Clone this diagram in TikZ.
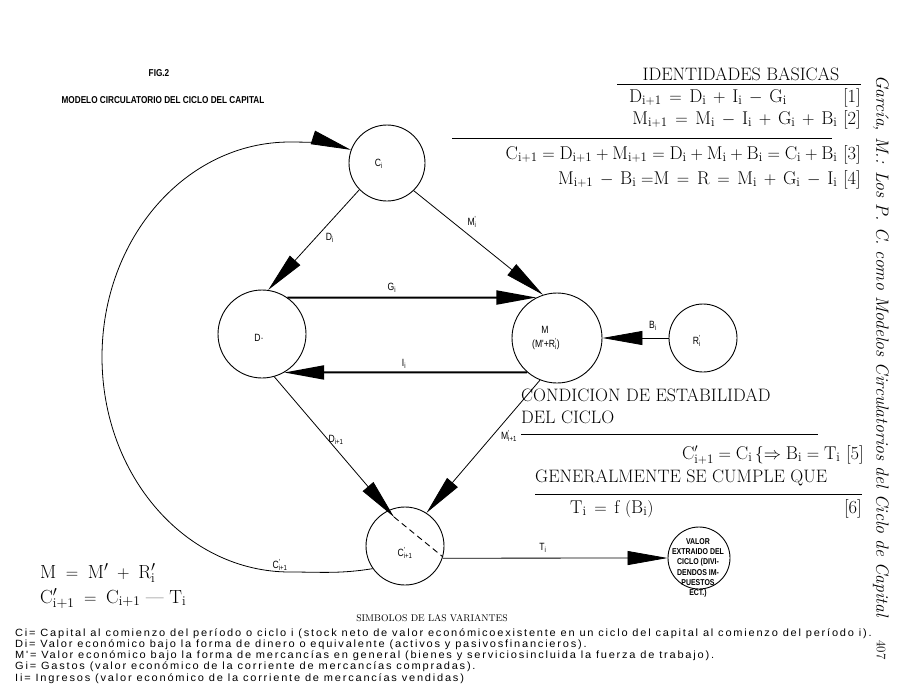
\documentclass[tikz,border=0pt]{standalone}
\usepackage{fontspec}
\usetikzlibrary{arrows.meta}
\newfontfamily\cond{Liberation Sans}[FakeStretch=0.82]
\newfontfamily\legf{Liberation Sans}[FakeStretch=1.05,LetterSpace=17]
\newcommand\lsub[2]{#1\textsubscript{#2}}
\newcommand\lps[2]{#1\rlap{\textsuperscript{'}}\textsubscript{#2}}
\newcommand\op[1]{\,#1\,}
\tikzset{
  nd/.style={circle,draw,line width=0.9pt,inner sep=0pt},
  arr/.style={-{Triangle[length=40pt,width=14pt]},line width=0.8pt},
  thk/.style={line width=2pt},
  lbl/.style={font=\cond\fontsize{10.5}{11}\selectfont,inner sep=0pt},
  eq/.style={font=\fontsize{18.5}{20}\selectfont,inner sep=0pt,anchor=base east},
  eqw/.style={font=\fontsize{18.5}{20}\selectfont,inner sep=0pt,anchor=base west},
  hd/.style={font=\fontsize{18}{20}\selectfont\addfontfeature{LetterSpace=8},inner sep=0pt,anchor=base west},
  leg/.style={font=\legf\fontsize{10.5}{11}\selectfont,inner sep=0pt,anchor=base west},
  rl/.style={line width=0.8pt}
}
\begin{document}
\begin{tikzpicture}[x=1pt,y=-1pt]
\path[use as bounding box,fill=white] (0,0) rectangle (899,683);
% circles
\node[nd,minimum size=76pt] (Ci) at (387,163) {};
\node[nd,minimum size=88pt] (D) at (262,334) {};
\node[nd,minimum size=90pt] (M) at (557,338) {};
\node[nd,minimum size=68pt] (R) at (703,338) {};
\node[nd,minimum size=78pt] (Cp) at (405,546) {};
\node[nd,minimum size=62pt] (V) at (699,558) {};
% circle texts
\node[lbl] (tCi) at (379,164) {\lsub{C}{i}};
\node[lbl] (tD) at (259,338) {D$\cdot$};
\node[lbl] (tM1) at (545,330) {M};
\node[lbl] (tM2) at (546,344) {(M'+\lps{R}{i})};
\node[lbl] (tR) at (697,341) {\lps{R}{i}};
\node[lbl] (tCp) at (405,553) {\lps{C}{i+1}};
\node[font=\cond\bfseries\fontsize{8.5}{10.2}\selectfont,align=center,inner sep=0pt] (tV) at (698,568) {VALOR\\EXTRAIDO DEL\\CICLO (DIVI-\\DENDOS IM-\\PUESTOS\\ECT.)};
% connectors
\draw[arr] (Ci.224) -- (D.82);
\draw[arr] (Ci.314) -- (M.108);
\draw[arr,thk] (D.55) -- (M.117);
\draw[arr,thk] (M.229) -- (D.300);
\draw[arr] (R.180) -- (M.0);
\coordinate (tipD) at (394,517);
\draw[arr] (D.286) -- (tipD);
\draw[dashed,line width=0.9pt,dash pattern=on 6pt off 4pt] (tipD) -- (Cp.344);
\draw[arr] (M.248) -- (Cp.57);
\draw[arr] (Cp.342) -- (V.180);
\draw[arr] (Cp.215) .. controls (340,574) and (320,572) .. (290,572)
  .. controls (186,572) and (102,476) .. (102,357)
  .. controls (102,238) and (186,142) .. (290,142)
  .. controls (312,142) and (333,144) .. (Ci.160);
% connector labels
\node[lbl] (lDi) at (330,238) {\lsub{D}{i}};
\node[lbl] (lMi) at (472,222) {\lps{M}{i}};
\node[lbl] (lGi) at (392,288) {\lsub{G}{i}};
\node[lbl] (lIi) at (404,364) {\lsub{I}{i}};
\node[lbl] (lBi) at (653,326) {\lsub{B}{i}};
\node[lbl] (lD1) at (336,440) {\lsub{D}{i+1}};
\node[lbl] (lM1) at (509,436) {\lps{M}{i+1}};
\node[lbl] (lTi) at (543,548) {\lsub{T}{i}};
\node[lbl] (lC1) at (280,565) {\lps{C}{i+1}};
% headings top left
\node[font=\cond\bfseries\fontsize{10}{11}\selectfont,inner sep=0pt] (fig) at (159,73) {FIG.2};
\node[font=\cond\bfseries\fontsize{10}{11}\selectfont,inner sep=0pt] (mod) at (163,100) {MODELO CIRCULATORIO DEL CICLO DEL CAPITAL};
% identities
\node[font=\fontsize{18}{20}\selectfont\addfontfeature{LetterSpace=5},inner sep=0pt,anchor=base] (idb) at (741,80) {IDENTIDADES BASICAS};
\draw[rl] (617,84) -- (861,84);
\node[eq] (e1) at (787,102) {$\mathrm{D_{i+1} \op= D_i \op+ I_i \op- G_i}$};
\node[eq] (n1) at (861,102) {[1]};
\node[eq] (e2) at (861,124) {$\mathrm{M_{i+1} \op= M_i \op- I_i \op+ G_i \op+ B_i}$\ [2]};
\draw[rl] (452,138) -- (832,138);
\node[eq] (e3) at (861,159) {$\mathrm{C_{i+1} = D_{i+1} + M_{i+1} = D_i + M_i + B_i = C_i + B_i}$\ [3]};
\node[eq] (e4) at (861,184) {$\mathrm{M_{i+1} \op- B_i \;{=}M \op= R \op= M_i \op+ G_i \op- I_i}$\ [4]};
% stability
\node[hd] (c1) at (521,401) {CONDICION DE ESTABILIDAD};
\node[hd] (c2) at (521,423) {DEL CICLO};
\draw[rl] (521,434) -- (818,434);
\node[eq] (e5) at (864,459) {$\mathrm{C'_{i+1} = C_i}\,\{\Rightarrow \mathrm{B_i = T_i}$\ [5]};
\node[hd] (g1) at (535,482) {GENERALMENTE SE CUMPLE QUE};
\draw[rl] (535,494) -- (862,494);
\node[eqw] (e6) at (570,513) {$\mathrm{T_i \op= f\ (B_i)}$};
\node[eq] (n6) at (862,513) {[6]};
% left formulas
\node[eqw,font=\fontsize{19}{21}\selectfont] (f1) at (40,578) {$\mathrm{M \;=\; M'\; +\; R'_i}$};
\node[eqw,font=\fontsize{19}{21}\selectfont] (f2) at (40,603) {$\mathrm{C'_{i+1} \;=\; C_{i+1}}$ --- $\mathrm{T_i}$};
% legend
\node[font=\fontsize{9.7}{10}\selectfont,inner sep=0pt,anchor=base] (sv) at (432,621) {SIMBOLOS DE LAS VARIANTES};
\node[leg] (l1) at (15,636) {Ci= Capital al comienzo del período o ciclo i (stock neto de valor económicoexistente en un ciclo del capital al comienzo del período i).};
\node[leg] (l2) at (15,647) {Di= Valor económico bajo la forma de dinero o equivalente (activos y pasivosfinancieros).};
\node[leg] (l3) at (15,658) {M'= Valor económico bajo la forma de mercancías en general (bienes y serviciosincluida la fuerza de trabajo).};
\node[leg] (l4) at (15,669) {Gi= Gastos (valor económico de la corriente de mercancías compradas).};
\node[leg] (l5) at (15,681) {Ii= Ingresos (valor económico de la corriente de mercancías vendidas)};
% side text
\node[rotate=-90,font=\itshape\fontsize{17.7}{19}\selectfont,inner sep=0pt] (side) at (881,346) {García, M.: Los P. C. como Modelos Circulatorios del Ciclo de Capital};
\node[rotate=-90,font=\fontsize{13}{15}\selectfont,inner sep=0pt] (pg) at (881,650) {407};
\end{tikzpicture}
\end{document}
